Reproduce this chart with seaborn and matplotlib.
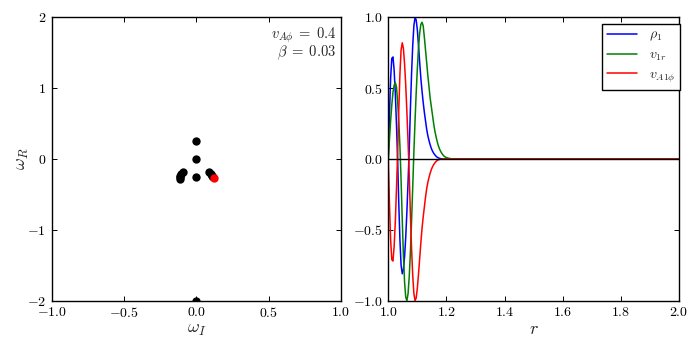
import numpy as np
import pandas as pd
import matplotlib
matplotlib.use('Agg')
import matplotlib.pyplot as plt
import seaborn as sns

# eigenvalues in the complex plane
omega_I = [0.0, 0.0, 0.0, 0.0,
           -0.095, -0.105, -0.112, -0.115, -0.112,
           0.089, 0.100, 0.110, 0.117]
omega_R = [0.25, 0.0, -0.25, -2.0,
           -0.19, -0.21, -0.235, -0.26, -0.28,
           -0.19, -0.215, -0.24, -0.26]
sel_I = [0.121]
sel_R = [-0.27]

# eigenfunctions of the selected mode (right panel)
r = [1.000, 1.004, 1.008, 1.012, 1.016, 1.020, 1.024, 1.028, 1.032, 1.036,
     1.040, 1.044, 1.048, 1.052, 1.056, 1.060, 1.064, 1.068, 1.072, 1.076,
     1.080, 1.084, 1.088, 1.092, 1.096, 1.100, 1.104, 1.108, 1.112, 1.116,
     1.120, 1.124, 1.128, 1.132, 1.136, 1.140, 1.144, 1.148, 1.152, 1.156,
     1.160, 1.164, 1.168, 1.172, 1.176, 1.180, 1.184, 1.188, 1.192, 1.196,
     1.200, 1.210, 1.220, 1.230, 1.240, 1.250, 2.000]
rho1 = [0.0, 0.32, 0.57, 0.71, 0.72, 0.63, 0.47, 0.25, 0.0, -0.31,
        -0.57, -0.75, -0.81, -0.78, -0.69, -0.55, -0.37, -0.16, 0.07, 0.35,
        0.60, 0.80, 0.94, 1.00, 0.98, 0.91, 0.80, 0.68, 0.57, 0.48,
        0.40, 0.33, 0.27, 0.21, 0.165, 0.13, 0.10, 0.075, 0.056, 0.041,
        0.030, 0.020, 0.013, 0.008, 0.005, 0.003, 0.001, 0.0, 0.0, 0.0,
        0.0, 0.0, 0.0, 0.0, 0.0, 0.0, 0.0]
v1r = [0.0, 0.14, 0.27, 0.38, 0.47, 0.52, 0.54, 0.51, 0.41, 0.27,
       0.09, -0.15, -0.43, -0.68, -0.87, -0.975, -1.0, -0.95, -0.83, -0.66,
       -0.44, -0.20, 0.05, 0.27, 0.47, 0.64, 0.79, 0.89, 0.95, 0.965,
       0.94, 0.86, 0.77, 0.68, 0.59, 0.51, 0.43, 0.37, 0.31, 0.25,
       0.20, 0.16, 0.125, 0.095, 0.072, 0.054, 0.040, 0.029, 0.020, 0.014,
       0.010, 0.004, 0.001, 0.0, 0.0, 0.0, 0.0]
vA1phi = [0.0, -0.32, -0.57, -0.71, -0.72, -0.62, -0.45, -0.22, 0.03, 0.34,
          0.60, 0.77, 0.82, 0.78, 0.67, 0.52, 0.33, 0.12, -0.11, -0.39,
          -0.63, -0.82, -0.95, -1.0, -0.98, -0.91, -0.81, -0.70, -0.59, -0.49,
          -0.41, -0.34, -0.27, -0.21, -0.165, -0.13, -0.10, -0.075, -0.055, -0.04,
          -0.028, -0.018, -0.011, -0.006, -0.003, -0.001, 0.0, 0.0, 0.0, 0.0,
          0.0, 0.0, 0.0, 0.0, 0.0, 0.0, 0.0]
labels = [r'$\rho_1$', r'$v_{1r}$', r'$v_{A1\phi}$']
colors = ['#0000ff', '#008000', '#ff0000']

sns.set_theme(style='ticks')
plt.rcParams['font.family'] = ['cmr10', 'DejaVu Serif']
plt.rcParams['mathtext.fontset'] = 'cm'
plt.rcParams['axes.formatter.use_mathtext'] = True
plt.rcParams['axes.unicode_minus'] = True
plt.rcParams['xtick.direction'] = 'in'
plt.rcParams['ytick.direction'] = 'in'
plt.rcParams['xtick.top'] = True
plt.rcParams['ytick.right'] = True
plt.rcParams['xtick.labelsize'] = 10
plt.rcParams['ytick.labelsize'] = 10
plt.rcParams['xtick.major.size'] = 3.5
plt.rcParams['ytick.major.size'] = 3.5
plt.rcParams['xtick.major.width'] = 0.7
plt.rcParams['ytick.major.width'] = 0.7
plt.rcParams['xtick.major.pad'] = 4
plt.rcParams['ytick.major.pad'] = 4
plt.rcParams['axes.edgecolor'] = 'black'
plt.rcParams['axes.linewidth'] = 1.0
plt.rcParams['xtick.color'] = 'black'
plt.rcParams['ytick.color'] = 'black'


fig = plt.figure(figsize=(6.98, 3.49), dpi=100)
ax1 = fig.add_axes([0.074, 0.1384, 0.4145, 0.812])
ax2 = fig.add_axes([0.5563, 0.1384, 0.4165, 0.812])

# ----------------------------------------------------------------------
# left: spectrum
# ----------------------------------------------------------------------
sns.scatterplot(x=omega_I, y=omega_R, color='black', s=36, linewidth=0, ax=ax1)
sns.scatterplot(x=sel_I, y=sel_R, color='#ff0000', s=36, linewidth=0, ax=ax1)
ax1.set_xlim(-1, 1)
ax1.set_ylim(-2, 2)
ax1.set_xticks([-1.0, -0.5, 0.0, 0.5, 1.0])
ax1.set_yticks([-2, -1, 0, 1, 2])
ax1.set_xlabel(r'$\omega_I$', fontsize=13, labelpad=2)
ax1.set_ylabel(r'$\omega_R$', fontsize=13, labelpad=-3)
ax1.text(0.983, 0.9375, r'$v_{A\phi}\;=\;0.4$', transform=ax1.transAxes,
         ha='right', va='center', fontsize=10.5)
ax1.text(0.983, 0.874, r'$\beta\;=\;0.03$', transform=ax1.transAxes,
         ha='right', va='center', fontsize=10.5)

# ----------------------------------------------------------------------
# right: eigenfunctions
# ----------------------------------------------------------------------
df = pd.DataFrame({'r': r * 3,
                   'value': rho1 + v1r + vA1phi,
                   'field': [labels[0]] * len(r) + [labels[1]] * len(r) + [labels[2]] * len(r)})
sns.lineplot(data=df, x='r', y='value', hue='field', palette=colors,
             estimator=None, sort=False, linewidth=1.1, ax=ax2)
ax2.axhline(0, color='black', linewidth=1.0)
ax2.set_xlim(1.0, 2.0)
ax2.set_ylim(-1.0, 1.0)
ax2.set_xticks([1.0, 1.2, 1.4, 1.6, 1.8, 2.0])
ax2.set_yticks([-1.0, -0.5, 0.0, 0.5, 1.0])
ax2.set_xlabel(r'$r$', fontsize=13, labelpad=2)
ax2.set_ylabel('')
handles, _ = ax2.get_legend_handles_labels()
ax2.legend(handles, labels, loc='upper right', bbox_to_anchor=(1.003, 0.976),
           borderaxespad=0, fontsize=10, labelspacing=0.4, handlelength=2.2,
           handletextpad=0.8, borderpad=0.35, fancybox=False, framealpha=1,
           edgecolor='black')
ax2.get_legend().get_frame().set_linewidth(1.0)

fig.savefig('out.png', dpi=100)
